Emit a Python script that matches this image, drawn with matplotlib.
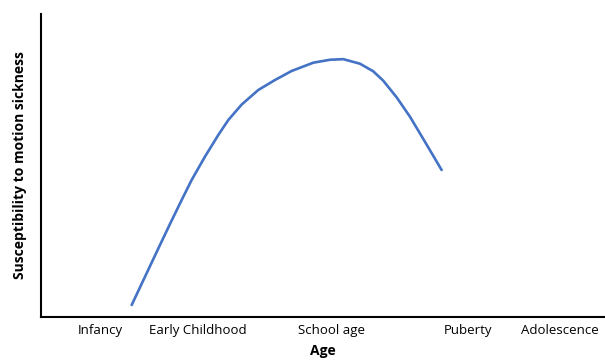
import numpy as np
import matplotlib
matplotlib.use('Agg')
import matplotlib.pyplot as plt

plt.rcParams['font.family'] = ['Open Sans', 'DejaVu Sans']

# stage labels and their positions along the age axis
stages = ['Infancy', 'Early Childhood', 'School age', 'Puberty', 'Adolescence']
stage_pos = [1.05, 2.78, 5.16, 7.57, 9.20]

# susceptibility curve
age = [1.608, 1.844, 2.080, 2.287, 2.495, 2.672, 2.908, 3.144, 3.321, 3.559,
       3.853, 4.149, 4.445, 4.828, 5.124, 5.360, 5.656, 5.892, 6.069, 6.307,
       6.543, 6.778, 7.105]
susc = [0.396, 1.33, 2.26, 3.07, 3.864, 4.525, 5.294, 6.007, 6.50, 7.013,
        7.492, 7.822, 8.12, 8.393, 8.49, 8.51, 8.360, 8.109, 7.80, 7.25,
        6.611, 5.88, 4.851]

fig = plt.figure(figsize=(6.05, 3.62), dpi=100)
ax = fig.add_axes([0.0678, 0.1243, 0.932, 0.837])

ax.plot(age, susc, color='#4472C4', linewidth=1.9, solid_capstyle='round', solid_joinstyle='round')

ax.set_xlim(0, 10)
ax.set_ylim(0, 10)
ax.set_xticks(stage_pos)
ax.set_xticklabels(stages, fontsize=9.5)
ax.set_yticks([])
ax.tick_params(axis='x', length=0, pad=5)

for s in ['top', 'right']:
    ax.spines[s].set_visible(False)
for s in ['left', 'bottom']:
    ax.spines[s].set_linewidth(1.5)
    ax.spines[s].set_color('black')

ax.set_xlabel('Age', fontsize=10, fontweight='bold', labelpad=5)
ax.set_ylabel('Susceptibility to motion sickness', fontsize=10, fontweight='bold', labelpad=10)

plt.savefig('out.png', dpi=100)
